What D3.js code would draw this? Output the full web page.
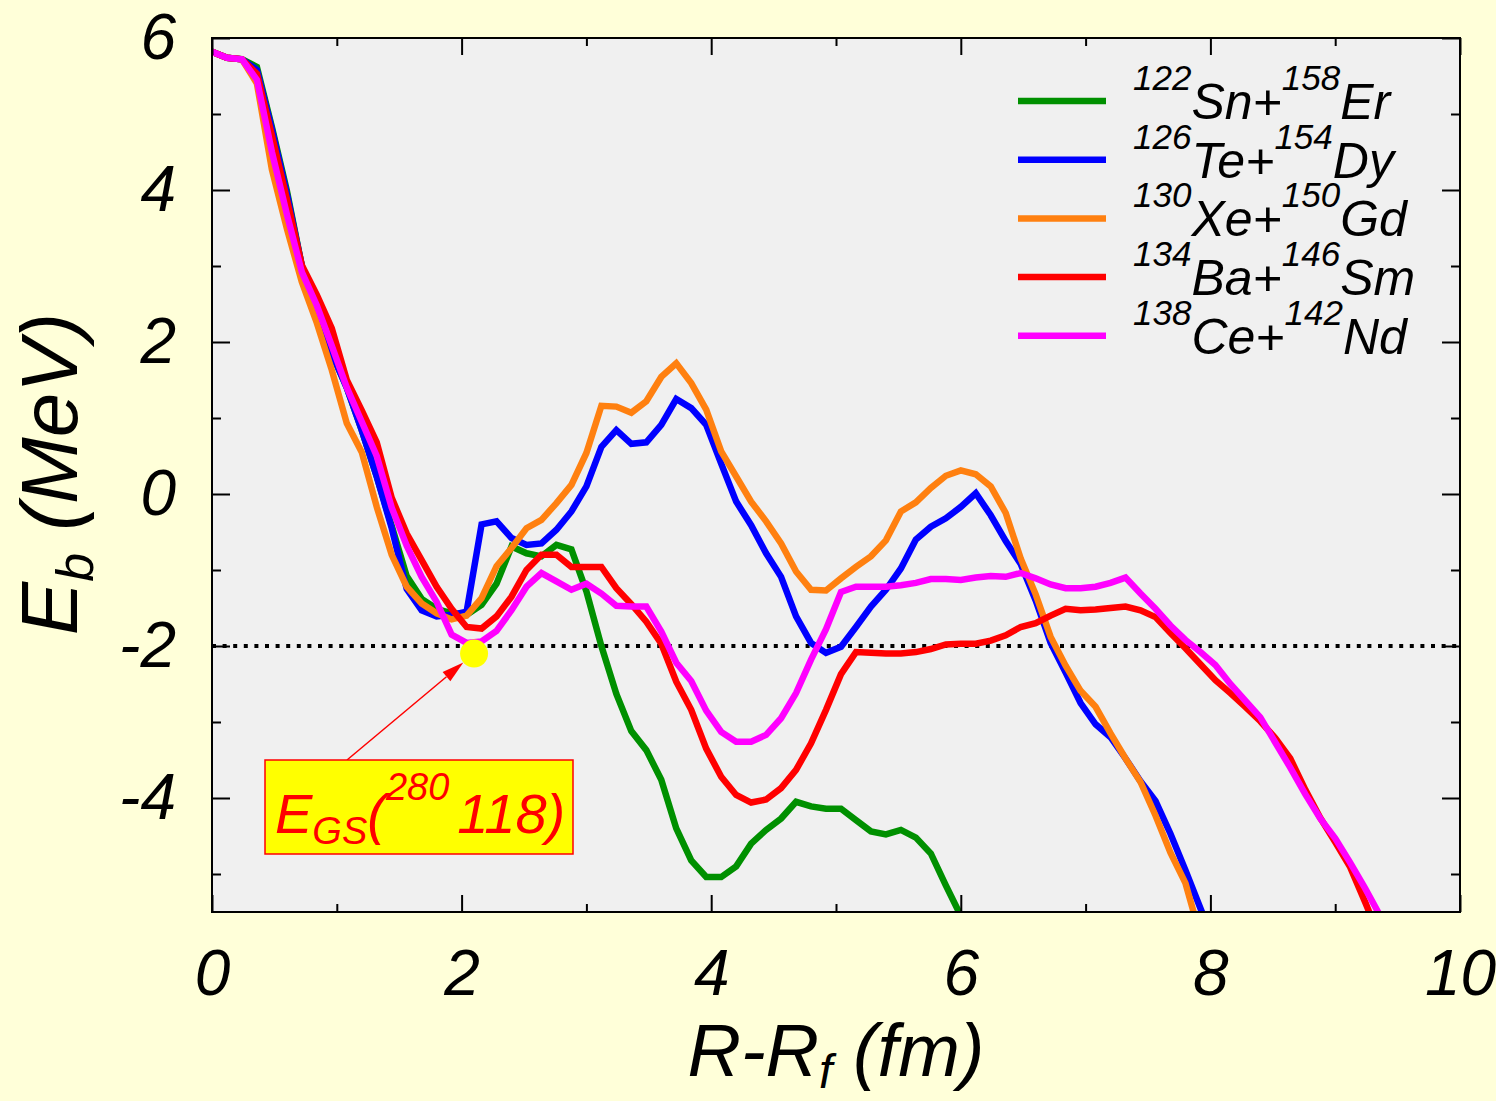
<!DOCTYPE html>
<html>
<head>
<meta charset="utf-8">
<script src="https://cdn.jsdelivr.net/npm/d3@7/dist/d3.min.js"></script>
<style>
  body { margin: 0; background: #ffffd9; }
  svg text { font-family: "Liberation Sans", Arial, sans-serif; font-style: italic; fill: #000; }
</style>
</head>
<body>
<div id="chart"></div>
<script>
// R - R_f grid (fm), one value per computed point
var rValues = [0, 0.12, 0.24, 0.36, 0.48, 0.6, 0.72, 0.84, 0.96, 1.08,
  1.2, 1.32, 1.44, 1.56, 1.68, 1.8, 1.92, 2.04, 2.16, 2.28,
  2.4, 2.52, 2.64, 2.76, 2.88, 3, 3.12, 3.24, 3.36, 3.48,
  3.6, 3.72, 3.84, 3.96, 4.08, 4.2, 4.32, 4.44, 4.56, 4.68,
  4.8, 4.92, 5.04, 5.16, 5.28, 5.4, 5.52, 5.64, 5.76, 5.88,
  6, 6.12, 6.24, 6.36, 6.48, 6.6, 6.72, 6.84, 6.96, 7.08,
  7.2, 7.32, 7.44, 7.56, 7.68, 7.8, 7.92, 8.04, 8.16, 8.28,
  8.4, 8.52, 8.64, 8.76, 8.88, 9, 9.12, 9.24, 9.36];

// E_b (MeV) for each channel
var snEr = [5.82, 5.74, 5.72, 5.62, 4.83, 3.99, 3.00, 2.40, 1.85, 1.40,
  0.84, 0.23, -0.42, -1.08, -1.38, -1.51, -1.57, -1.59, -1.46, -1.18,
  -0.69, -0.78, -0.82, -0.67, -0.73, -1.28, -2.00, -2.63, -3.12, -3.37,
  -3.76, -4.40, -4.82, -5.04, -5.04, -4.90, -4.60, -4.42, -4.27, -4.05,
  -4.11, -4.14, -4.14, -4.29, -4.44, -4.48, -4.42, -4.52, -4.73, -5.15, -5.55];

var teDy = [5.82, 5.74, 5.72, 5.58, 4.80, 3.95, 3.00, 2.40, 1.85, 1.40,
  0.84, 0.23, -0.45, -1.25, -1.53, -1.61, -1.59, -1.55, -0.40, -0.36,
  -0.58, -0.67, -0.65, -0.47, -0.23, 0.10, 0.62, 0.84, 0.66, 0.68,
  0.91, 1.25, 1.13, 0.91, 0.40, -0.10, -0.41, -0.78, -1.09, -1.61,
  -1.96, -2.09, -2.01, -1.75, -1.48, -1.26, -0.98, -0.60, -0.43, -0.32,
  -0.17, 0.01, -0.28, -0.62, -0.92, -1.40, -1.96, -2.35, -2.75, -3.03,
  -3.20, -3.48, -3.78, -4.04, -4.47, -4.95, -5.45, -5.95];

var xeGd = [5.82, 5.74, 5.72, 5.40, 4.27, 3.49, 2.79, 2.25, 1.63, 0.93,
  0.55, -0.17, -0.80, -1.22, -1.44, -1.57, -1.65, -1.60, -1.37, -0.95,
  -0.71, -0.45, -0.34, -0.12, 0.12, 0.54, 1.16, 1.15, 1.07, 1.22,
  1.54, 1.72, 1.46, 1.11, 0.56, 0.23, -0.10, -0.36, -0.65, -1.02,
  -1.26, -1.27, -1.11, -0.96, -0.82, -0.61, -0.23, -0.11, 0.08, 0.24,
  0.31, 0.26, 0.10, -0.25, -0.85, -1.32, -1.88, -2.26, -2.59, -2.80,
  -3.15, -3.48, -3.79, -4.23, -4.72, -5.12, -5.82];

var baSm = [5.82, 5.74, 5.72, 5.53, 4.72, 3.88, 3.01, 2.62, 2.18, 1.50,
  1.10, 0.68, -0.05, -0.52, -0.87, -1.22, -1.51, -1.75, -1.77, -1.61,
  -1.35, -1.00, -0.80, -0.80, -0.96, -0.96, -0.96, -1.24, -1.45, -1.68,
  -1.97, -2.47, -2.84, -3.35, -3.72, -3.96, -4.06, -4.02, -3.87, -3.63,
  -3.28, -2.84, -2.37, -2.08, -2.09, -2.10, -2.10, -2.08, -2.04, -1.98,
  -1.97, -1.97, -1.93, -1.86, -1.75, -1.70, -1.60, -1.51, -1.53, -1.52,
  -1.50, -1.48, -1.53, -1.62, -1.83, -2.03, -2.24, -2.45, -2.62, -2.80,
  -2.99, -3.21, -3.48, -3.89, -4.26, -4.58, -4.91, -5.37, -5.85];

var ceNd = [5.82, 5.74, 5.72, 5.45, 4.50, 3.68, 2.92, 2.48, 1.95, 1.40,
  0.95, 0.50, -0.18, -0.68, -1.09, -1.42, -1.85, -1.96, -1.94, -1.80,
  -1.53, -1.22, -1.04, -1.15, -1.26, -1.18, -1.31, -1.47, -1.48, -1.48,
  -1.81, -2.22, -2.46, -2.85, -3.13, -3.26, -3.26, -3.17, -2.95, -2.62,
  -2.18, -1.78, -1.29, -1.22, -1.22, -1.22, -1.20, -1.17, -1.12, -1.12,
  -1.13, -1.10, -1.08, -1.09, -1.04, -1.11, -1.19, -1.24, -1.24, -1.22,
  -1.17, -1.10, -1.31, -1.51, -1.73, -1.92, -2.08, -2.25, -2.50, -2.72,
  -2.94, -3.27, -3.60, -3.95, -4.27, -4.53, -4.85, -5.19, -5.55];

// legend labels: [A1, symbol1, A2, symbol2]
var labels = [
  ["122", "Sn+", "158", "Er"],
  ["126", "Te+", "154", "Dy"],
  ["130", "Xe+", "150", "Gd"],
  ["134", "Ba+", "146", "Sm"],
  ["138", "Ce+", "142", "Nd"]
];
var colors = ["#009000", "#0000ff", "#ff8010", "#ff0000", "#ff00ff"];
var seriesValues = [snEr, teDy, xeGd, baSm, ceNd];

var xTicks = [0, 2, 4, 6, 8, 10];
var xMinor = [1, 3, 5, 7, 9];
var yTicks = [-4, -2, 0, 2, 4, 6];
var yMinor = [-5, -3, -1, 1, 3, 5];

var groundState = { r: 2.1, e: -2.1 }; // E_GS(280 118)
var gsLevel = -2;

function drawChart() {
  var W = 1496, H = 1101;
  var pl = 212, pr = 1460, pt = 38, pb = 912;

  var svg = d3.select("#chart").append("svg")
    .attr("width", W).attr("height", H);

  svg.append("rect").attr("width", W).attr("height", H).attr("fill", "#ffffd9");

  var x = d3.scaleLinear().domain([0, 10]).range([pl, pr]);
  var y = d3.scaleLinear().domain([-5.5, 6]).range([pb, pt]);

  // plot background
  svg.append("rect")
    .attr("x", pl).attr("y", pt)
    .attr("width", pr - pl).attr("height", pb - pt)
    .attr("fill", "#f0f0f0");

  svg.append("clipPath").attr("id", "plotclip")
    .append("rect")
    .attr("x", pl).attr("y", pt)
    .attr("width", pr - pl).attr("height", pb - pt);

  // dotted ground-state level
  svg.append("line")
    .attr("x1", x(0)).attr("x2", x(10))
    .attr("y1", y(gsLevel)).attr("y2", y(gsLevel))
    .attr("stroke", "#000")
    .attr("stroke-width", 4)
    .attr("stroke-dasharray", "4,6.6");

  var line = d3.line()
    .x(function (d, i) { return x(rValues[i]); })
    .y(function (d) { return y(d); });

  var curves = svg.append("g").attr("clip-path", "url(#plotclip)");
  seriesValues.forEach(function (vals, i) {
    curves.append("path")
      .datum(vals)
      .attr("d", line)
      .attr("fill", "none")
      .attr("stroke", colors[i])
      .attr("stroke-width", 6.5)
      .attr("stroke-linejoin", "miter")
      .attr("stroke-miterlimit", 3);
  });

  // axes
  function styleAxis(g) {
    g.select(".domain").remove();
    g.selectAll(".tick line").attr("stroke", "#000").attr("stroke-width", 2);
    g.selectAll(".tick text").attr("font-size", 64).attr("fill", "#000")
      .attr("font-family", "Liberation Sans, Arial, sans-serif")
      .attr("font-style", "italic");
  }

  svg.append("g").attr("transform", "translate(0," + pb + ")")
    .call(d3.axisBottom(x).tickValues(xTicks).tickSizeInner(-17).tickSizeOuter(0)
      .tickPadding(38).tickFormat(function (d) { return String(d); }))
    .call(styleAxis);
  svg.append("g").attr("transform", "translate(0," + pb + ")")
    .call(d3.axisBottom(x).tickValues(xMinor).tickSizeInner(-8).tickSizeOuter(0).tickFormat(""))
    .call(styleAxis);
  svg.append("g").attr("transform", "translate(0," + pt + ")")
    .call(d3.axisTop(x).tickValues(xTicks).tickSizeInner(-17).tickSizeOuter(0).tickFormat(""))
    .call(styleAxis);
  svg.append("g").attr("transform", "translate(0," + pt + ")")
    .call(d3.axisTop(x).tickValues(xMinor).tickSizeInner(-8).tickSizeOuter(0).tickFormat(""))
    .call(styleAxis);

  svg.append("g").attr("transform", "translate(" + pl + ",0)")
    .call(d3.axisLeft(y).tickValues(yTicks).tickSizeInner(-18).tickSizeOuter(0)
      .tickPadding(36).tickFormat(function (d) { return String(d); }))
    .call(styleAxis);
  svg.append("g").attr("transform", "translate(" + pl + ",0)")
    .call(d3.axisLeft(y).tickValues(yMinor).tickSizeInner(-9).tickSizeOuter(0).tickFormat(""))
    .call(styleAxis);
  svg.append("g").attr("transform", "translate(" + pr + ",0)")
    .call(d3.axisRight(y).tickValues(yTicks).tickSizeInner(-18).tickSizeOuter(0).tickFormat(""))
    .call(styleAxis);
  svg.append("g").attr("transform", "translate(" + pr + ",0)")
    .call(d3.axisRight(y).tickValues(yMinor).tickSizeInner(-9).tickSizeOuter(0).tickFormat(""))
    .call(styleAxis);

  // frame
  svg.append("rect")
    .attr("x", pl).attr("y", pt)
    .attr("width", pr - pl).attr("height", pb - pt)
    .attr("fill", "none").attr("stroke", "#000").attr("stroke-width", 2);

  // axis titles
  var xt = svg.append("text")
    .attr("x", (pl + pr) / 2).attr("y", 1076)
    .attr("text-anchor", "middle").attr("font-size", 74);
  xt.append("tspan").text("R-R");
  xt.append("tspan").attr("font-size", 48).attr("dy", 12).text("f");
  xt.append("tspan").attr("dy", -12).text(" (fm)");

  var yt = svg.append("text")
    .attr("transform", "translate(77,474) rotate(-90)")
    .attr("text-anchor", "middle").attr("font-size", 80);
  yt.append("tspan").text("E");
  yt.append("tspan").attr("font-size", 52).attr("dy", 16).text("b");
  yt.append("tspan").attr("dy", -16).text(" (MeV)");

  // legend
  labels.forEach(function (lab, i) {
    var ly = 101 + i * 58.7;
    svg.append("line")
      .attr("x1", 1018).attr("x2", 1106)
      .attr("y1", ly).attr("y2", ly)
      .attr("stroke", colors[i]).attr("stroke-width", 6.5);
    var t = svg.append("text").attr("x", 1133).attr("y", ly + 18).attr("font-size", 50);
    t.append("tspan").attr("font-size", 35).attr("dy", -29).text(lab[0]);
    t.append("tspan").attr("dy", 29).text(lab[1]);
    t.append("tspan").attr("font-size", 35).attr("dy", -29).text(lab[2]);
    t.append("tspan").attr("dy", 29).text(lab[3]);
  });

  // ground state marker and annotation
  var gx = x(groundState.r), gy = y(groundState.e);
  var boxX = 265, boxY = 760, boxW = 308, boxH = 94;
  var ax0 = 347, ay0 = boxY;
  var dx = gx - ax0, dy = gy - ay0, len = Math.sqrt(dx * dx + dy * dy);
  var ux = dx / len, uy = dy / len;
  var tipX = gx - ux * 14, tipY = gy - uy * 14;
  var headL = 22, headW = 6;
  svg.append("line")
    .attr("x1", ax0).attr("y1", ay0)
    .attr("x2", tipX - ux * headL).attr("y2", tipY - uy * headL)
    .attr("stroke", "#ff0000").attr("stroke-width", 1.5);
  svg.append("path")
    .attr("d", "M" + tipX + "," + tipY +
      "L" + (tipX - ux * headL - uy * headW) + "," + (tipY - uy * headL + ux * headW) +
      "L" + (tipX - ux * headL + uy * headW) + "," + (tipY - uy * headL - ux * headW) + "Z")
    .attr("fill", "#ff0000");

  svg.append("circle")
    .attr("cx", gx).attr("cy", gy).attr("r", 14)
    .attr("fill", "#ffff00");

  svg.append("rect")
    .attr("x", boxX).attr("y", boxY).attr("width", boxW).attr("height", boxH)
    .attr("fill", "#ffff00").attr("stroke", "#ff0000").attr("stroke-width", 1.5);

  var ann = svg.append("text").attr("x", 275).attr("y", 833).attr("font-size", 56)
    .style("fill", "#ff0000");
  ann.append("tspan").text("E");
  ann.append("tspan").attr("font-size", 38).attr("dy", 11).text("GS");
  ann.append("tspan").attr("dy", -11).text("(");
  ann.append("tspan").attr("font-size", 38).attr("dy", -33).text("280");
  ann.append("tspan").attr("dy", 33).attr("dx", 8).text("118)");
}

drawChart();
</script>
</body>
</html>
